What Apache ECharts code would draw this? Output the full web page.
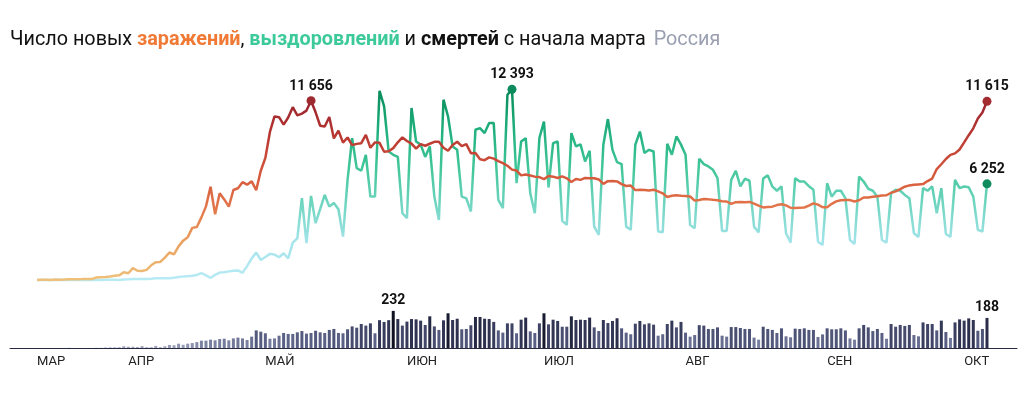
<!DOCTYPE html>
<html>
<head>
<meta charset="utf-8">
<title>Россия</title>
<script src="https://cdn.jsdelivr.net/npm/echarts@6/dist/echarts.min.js"></script>
<style>
  html, body { margin: 0; padding: 0; background: #fff; }
  #chart { width: 1033px; height: 399px; }
</style>
</head>
<body>
<div id="chart"></div>
<script>
// дни с 12 марта по 6 октября, по одному значению на день
var monthLabels = ['МАР', 'АПР', 'МАЙ', 'ИЮН', 'ИЮЛ', 'АВГ', 'СЕН', 'ОКТ'];
var monthStarts = [0, 20, 50, 81, 111, 142, 173, 203];

// новые заражения
var infected = [
  6, 17, 14, 4, 30, 21, 33, 52, 54, 53, 61, 71, 57, 163, 182, 196, 228, 270, 302, 501,
  440, 771, 601, 582, 658, 954, 1154, 1175, 1459, 1786, 1667, 2186, 2558, 2774, 3388, 3448, 4070, 4785, 6060, 4268,
  5642, 5236, 4774, 5849, 5966, 6361, 6198, 6411, 5841, 7099,
  7933, 9623, 10633, 10581, 10102, 10559, 11231, 10699, 10817, 11012, 11656, 10899, 10028, 9974, 10598, 9200,
  9709, 8926, 9263, 8764, 8849, 8894, 9434, 8599, 8946, 8915, 8338, 8371, 8572, 8952, 9268,
  9035, 8863, 8536, 8831, 8726, 8855, 8984, 8985, 8595, 8404, 8779, 8987, 8706, 8835, 8246, 8248, 7843, 7790,
  7972, 7889, 7728, 7600, 7425, 7176, 7113, 6800, 6852, 6791, 6719, 6693,
  6556, 6760, 6718, 6632, 6736, 6611, 6368, 6562, 6509, 6635, 6611, 6615, 6537, 6248, 6422, 6428, 6406, 6234,
  6109, 6139, 5842, 5862, 5848, 5811, 5871, 5765, 5635, 5395, 5475, 5509, 5482,
  5462, 5427, 5159, 5204, 5267, 5241, 5212, 5189, 5118, 5102, 4945, 5057, 5065, 5061, 5076, 4969, 4839, 4718,
  4748, 4767, 4870, 4921, 4852, 4696, 4676, 4696, 4711, 4829, 4980, 4897, 4729,
  4729, 4952, 5110, 5185, 5205, 5195, 5099, 5185, 5363, 5363, 5406, 5449, 5488, 5509, 5670, 5762, 5905, 6065,
  6148, 6196, 6215, 6234, 6431, 6595, 7212, 7523, 7867, 8135, 8232, 8481,
  8945, 9412, 9859, 10499, 10888, 11615
];

// выздоровления
var recovered = [
  0, 0, 1, 0, 2, 0, 3, 0, 0, 2, 0, 3, 6, 5, 2, 23, 12, 21, 0, 37,
  45, 70, 60, 70, 60, 80, 110, 120, 110, 120, 150, 200, 220, 250, 280, 330, 450, 300, 140, 330,
  480, 500, 560, 600, 620, 470, 900, 1400, 1780, 1300,
  1500, 1700, 1650, 1480, 1740, 1400, 2430, 2710, 5320, 2390, 5470, 3690, 4600, 5530, 4770, 5000,
  4600, 2820, 6510, 9220, 7270, 7100, 8140, 5420, 5420, 12300, 11280, 8350, 8140, 8000, 4340,
  4020, 11180, 9000, 8800, 8000, 8680, 5420, 3900, 11720, 10630, 8680, 8460, 5420, 5300, 4450,
  9770, 9870, 9550, 10200, 10200, 5210, 4670, 12040, 12393, 6290, 9000, 9220, 5640, 4340, 9220,
  10300, 6010, 8900, 9000, 3840, 3580, 9550, 8680, 8820, 7700, 8400, 3470, 2930, 8790, 10460, 8460,
  7660, 7530, 3470, 3260, 8790, 9650, 8250, 8460, 8350, 3150, 3100, 8850, 8140, 9330, 8800,
  8140, 3580, 3370, 7880, 7530, 7380, 7160, 6620, 3190, 3190, 6510, 7100, 6080, 6580, 6450, 3470,
  3090, 6600, 6800, 6080, 5800, 6080, 3040, 2430, 6620, 6400, 6400, 6100, 5860, 2490, 2280,
  6290, 5420, 5800, 5800, 5320, 2600, 2340, 6720, 6400, 5930, 5800, 5420, 2600, 2430, 5640,
  5860, 5800, 5530, 5320, 3040, 2800, 5970, 5800, 6080, 4340, 5970, 2990, 2800, 6510, 5970,
  6080, 6030, 5420, 3260, 3150, 6252
];

// смерти
var deaths = [
  0, 0, 0, 0, 0, 0, 0, 1, 0, 0, 0, 0, 0, 1, 1, 3, 4, 4, 5, 11,
  8, 8, 6, 12, 5, 5, 13, 5, 11, 19, 17, 27, 20, 27, 31, 37, 46, 46, 52, 48,
  56, 58, 48, 60, 65, 60, 50, 71, 110, 102,
  92, 58, 60, 77, 94, 88, 88, 98, 106, 90, 94, 108, 98, 94, 113, 119,
  94, 92, 117, 135, 127, 150, 140, 154, 92, 174, 163, 174, 232, 181, 140,
  165, 181, 179, 171, 144, 198, 135, 113, 173, 217, 175, 183, 117, 119, 142,
  194, 194, 183, 181, 163, 110, 96, 154, 154, 92, 177, 190, 104, 94, 154,
  217, 148, 177, 169, 133, 133, 198, 175, 177, 175, 190, 129, 106, 175, 156, 169,
  186, 123, 96, 86, 152, 169, 148, 154, 146, 77, 86, 150, 171, 129, 163,
  96, 71, 81, 143, 140, 119, 119, 129, 77, 71, 131, 131, 125, 119, 119, 65,
  52, 133, 119, 113, 94, 123, 73, 67, 121, 119, 123, 113, 113, 69, 85,
  123, 117, 117, 123, 110, 60, 52, 123, 144, 129, 106, 119, 94, 58, 150,
  133, 144, 138, 144, 81, 73, 160, 150, 150, 110, 171, 100, 63, 160, 179,
  171, 185, 175, 108, 119, 188
];

function fmt(v) {
  return String(v).replace(/\B(?=(\d{3})+(?!\d))/g, ' ');
}
function argmax(arr) {
  var k = 0;
  for (var i = 1; i < arr.length; i++) if (arr[i] > arr[k]) k = i;
  return k;
}
function pairs(arr) {
  return arr.map(function (v, i) { return [i, v]; });
}

var last = infected.length - 1;
var infPeak = argmax(infected);
var recPeak = argmax(recovered);
var deathPeak = argmax(deaths);

var markLabel = {
  show: true,
  position: 'top',
  distance: 3,
  color: '#111',
  fontSize: 14,
  fontWeight: 'bold',
  fontFamily: 'Roboto',
  formatter: function (p) { return fmt(p.value); }
};

var deathBars = deaths.map(function (v, i) {
  if (i === deathPeak || i === last) {
    return { value: [i, v], label: { show: true } };
  }
  return [i, v];
});

var xMin = -5.91, xMax = 214.57;
var titleFont = 'Roboto';
var titleSize = 19.8;

var chart = echarts.init(document.getElementById('chart'), null, { renderer: 'canvas' });
chart.setOption({
  animation: false,
  backgroundColor: '#fff',
  title: {
    left: 10,
    top: 30,
    padding: 0,
    text: '{n|Число новых }{o|заражений}{n|, }{g|выздоровлений}{n| и }{b|смертей}{n| с начала марта}{r|Россия}',
    textStyle: {
      fontWeight: 'normal',
      rich: {
        n: { fontSize: titleSize, color: '#111', fontWeight: 'normal', fontFamily: titleFont },
        o: { fontSize: titleSize, color: '#f07a35', fontWeight: 'bold', fontFamily: titleFont },
        g: { fontSize: titleSize, color: '#3dca9b', fontWeight: 'bold', fontFamily: titleFont },
        b: { fontSize: titleSize, color: '#111', fontWeight: 'bold', fontFamily: titleFont },
        r: { fontSize: titleSize, color: '#9aa0b2', fontWeight: 'normal', fontFamily: titleFont, padding: [0, 0, 0, 8] }
      }
    }
  },
  grid: [
    { left: 10, right: 16, top: 80, height: 200 },
    { left: 10, right: 16, top: 308, height: 40 }
  ],
  xAxis: [
    { gridIndex: 0, type: 'value', min: xMin, max: xMax, show: false },
    {
      gridIndex: 1, type: 'value', min: xMin, max: xMax,
      splitLine: { show: false },
      axisTick: { show: false },
      axisLine: { show: true, onZero: false, lineStyle: { color: '#262940', width: 1 } },
      axisLabel: {
        customValues: monthStarts,
        margin: 7,
        align: 'left',
        color: '#222',
        fontSize: 13,
        fontFamily: 'Roboto',
        formatter: function (v) {
          var k = monthStarts.indexOf(Math.round(v));
          return k >= 0 ? monthLabels[k] : '';
        }
      }
    }
  ],
  yAxis: [
    { gridIndex: 0, type: 'value', min: 0, max: 13000, show: false },
    { gridIndex: 1, type: 'value', min: 0, max: 250, show: false }
  ],
  visualMap: [
    {
      type: 'continuous', show: false, seriesIndex: 0, dimension: 1, min: 0, max: 12400,
      inRange: { color: ['#b8eaf4', '#a4e4ea', '#6fd5c0', '#3fc597', '#1eae7c', '#0a8a5a'] }
    },
    {
      type: 'continuous', show: false, seriesIndex: 1, dimension: 1, min: 0, max: 11700,
      inRange: { color: ['#eec07a', '#eaa260', '#e2764a', '#d4563c', '#b83832', '#9a2430'] }
    },
    {
      type: 'continuous', show: false, seriesIndex: 2, dimension: 1, min: 0, max: 232,
      inRange: { color: ['#a9adc4', '#7d83a3', '#5b6186', '#464b6e', '#2c2f4c', '#0f1120'] }
    }
  ],
  series: [
    {
      name: 'выздоровления',
      type: 'line',
      xAxisIndex: 0, yAxisIndex: 0,
      data: pairs(recovered),
      symbol: 'none',
      clip: false,
      lineStyle: { width: 2.5 },
      markPoint: {
        symbol: 'circle',
        symbolSize: 9,
        label: markLabel,
        data: [
          { coord: [recPeak, recovered[recPeak]], value: recovered[recPeak], itemStyle: { color: '#0b8a5b' } },
          { coord: [last, recovered[last]], value: recovered[last], itemStyle: { color: '#0f8c5d' } }
        ]
      }
    },
    {
      name: 'заражения',
      type: 'line',
      xAxisIndex: 0, yAxisIndex: 0,
      data: pairs(infected),
      symbol: 'none',
      clip: false,
      z: 3,
      lineStyle: { width: 2.5 },
      markPoint: {
        symbol: 'circle',
        symbolSize: 9,
        label: markLabel,
        data: [
          { coord: [infPeak, infected[infPeak]], value: infected[infPeak], itemStyle: { color: '#9c2a30' } },
          { coord: [last, infected[last]], value: infected[last], itemStyle: { color: '#a32c31' } }
        ]
      }
    },
    {
      name: 'смерти',
      type: 'bar',
      xAxisIndex: 1, yAxisIndex: 1,
      data: deathBars,
      barWidth: 3,
      label: {
        show: false,
        position: 'top',
        distance: 3,
        color: '#111',
        fontSize: 14,
        fontWeight: 'bold',
        fontFamily: 'Roboto',
        formatter: function (p) { return fmt(p.value[1]); }
      }
    }
  ]
});
</script>
</body>
</html>
